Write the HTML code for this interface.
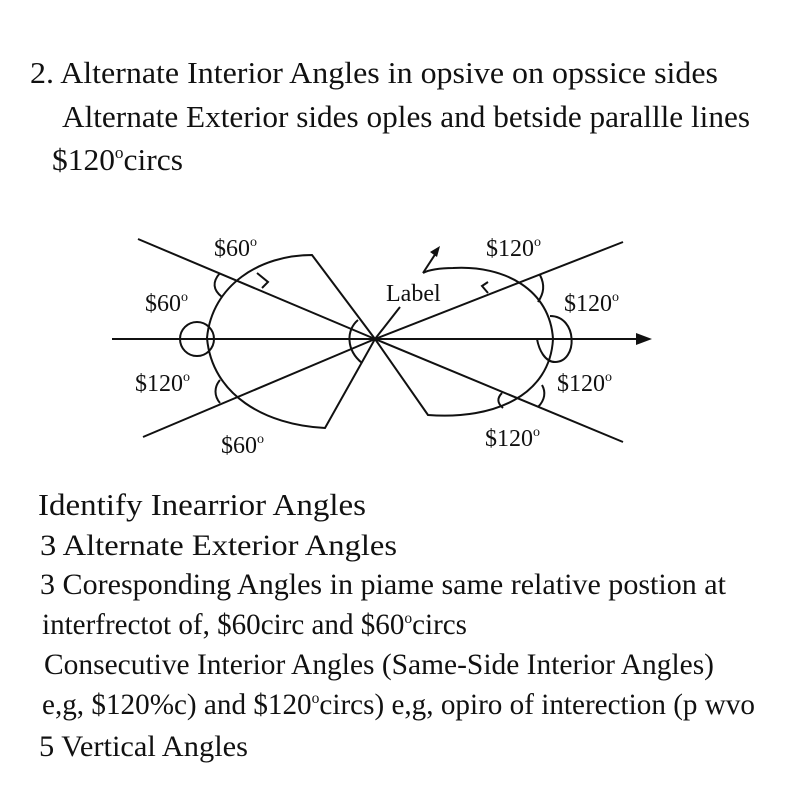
<!DOCTYPE html>
<html><head><meta charset="utf-8"><style>html,body{margin:0;padding:0;background:#fff}svg{display:block}</style></head>
<body>
<svg width="800" height="800" xmlns="http://www.w3.org/2000/svg" font-family="Liberation Serif, serif" fill="#111">
<g font-size="31">
<text x="30" y="83" textLength="688" lengthAdjust="spacingAndGlyphs">2. Alternate Interior Angles in opsive on opssice sides</text>
<text x="62" y="127" textLength="688" lengthAdjust="spacingAndGlyphs">Alternate Exterior sides oples and betside parallle lines</text>
<text x="52" y="170" textLength="131" lengthAdjust="spacingAndGlyphs">$120<tspan font-size="17" dy="-12">o</tspan><tspan dy="12">circs</tspan></text>
<text x="38" y="515" textLength="328" lengthAdjust="spacingAndGlyphs">Identify Inearrior Angles</text>
</g>
<g font-size="30">
<text x="40" y="555" textLength="357" lengthAdjust="spacingAndGlyphs">3 Alternate Exterior Angles</text>
<text x="40" y="594" textLength="686" lengthAdjust="spacingAndGlyphs">3 Coresponding Angles in piame same relative postion at</text>
<text x="42" y="634" textLength="425" lengthAdjust="spacingAndGlyphs">interfrectot of, $60circ  and $60<tspan font-size="16" dy="-11">o</tspan><tspan dy="11">circs</tspan></text>
<text x="44" y="674" textLength="670" lengthAdjust="spacingAndGlyphs">Consecutive Interior Angles (Same-Side Interior Angles)</text>
<text x="42" y="714" textLength="713" lengthAdjust="spacingAndGlyphs">e,g, $120%c) and $120<tspan font-size="16" dy="-11">o</tspan><tspan dy="11">circs) e,g, opiro of interection  (p wvo</tspan></text>
<text x="39" y="756" textLength="209" lengthAdjust="spacingAndGlyphs">5 Vertical Angles</text>
</g>
<g stroke="#111" stroke-width="2" fill="none">
<line x1="112" y1="339" x2="640" y2="339"/>
<line x1="138" y1="239" x2="375" y2="339"/>
<line x1="143" y1="437" x2="375" y2="339"/>
<line x1="375" y1="339" x2="623" y2="242"/>
<line x1="375" y1="339" x2="623" y2="442"/>
<line x1="375" y1="339" x2="400" y2="307"/>
<path d="M375 339 L312 255 C260 255 212 285 207 338 C212 395 265 425 325 428 Z"/>
<path d="M375 339 L428 415 C495 420 550 395 553 339 C550 290 505 265 453 268 C440 268 428 270 423 273"/>
<line x1="423" y1="273" x2="436" y2="253"/>
<circle cx="197" cy="339" r="17"/>
<path d="M550 316 C578 316 578 362 555 362 C545 362 539 350 537 339"/>
<path d="M220 273 C212 282 213 290 222 297"/>
<path d="M257 273 l11 9 l-6 6"/>
<path d="M220 380 C214 387 214 396 220 403"/>
<path d="M358 320 C346 330 346 350 362 363"/>
<path d="M488 282 l-6 4 l6 7"/>
<path d="M540 275 C545 285 544 293 538 302"/>
<path d="M542 385 C546 392 545 400 538 407"/>
<path d="M502 393 C497 398 497 403 503 408"/>
</g>
<path d="M652 339 L636 333 L636 345 Z" fill="#111"/>
<path d="M440 246 L430 252 L437 257 Z" fill="#111"/>
<g font-size="24">
<text x="214" y="256">$60<tspan font-size="14" dy="-10">o</tspan></text>
<text x="145" y="311">$60<tspan font-size="14" dy="-10">o</tspan></text>
<text x="135" y="391">$120<tspan font-size="14" dy="-10">o</tspan></text>
<text x="221" y="453">$60<tspan font-size="14" dy="-10">o</tspan></text>
<text x="386" y="301">Label</text>
<text x="486" y="256">$120<tspan font-size="14" dy="-10">o</tspan></text>
<text x="564" y="311">$120<tspan font-size="14" dy="-10">o</tspan></text>
<text x="557" y="391">$120<tspan font-size="14" dy="-10">o</tspan></text>
<text x="485" y="446">$120<tspan font-size="14" dy="-10">o</tspan></text>
</g>
</svg>
</body></html>
